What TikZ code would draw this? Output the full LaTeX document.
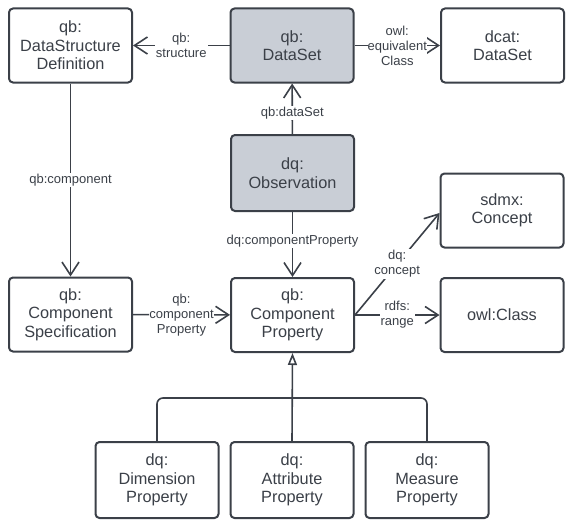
\documentclass[tikz,border=0pt]{standalone}
\usepackage{fontspec}
\setmainfont{Liberation Sans}
\usetikzlibrary{arrows.meta}
\definecolor{ink}{HTML}{3B4048}
\definecolor{boxgray}{HTML}{C9CED6}
\tikzset{
  x=1pt,y=-1pt,
  box/.style={draw=ink,line width=2pt,rounded corners=4pt,fill=white,
    minimum width=123pt,minimum height=74pt,align=center,text=ink,
    inner sep=2pt,font=\fontsize{16.3}{18.5}\selectfont},
  graybox/.style={box,fill=boxgray},
  conn/.style={draw=ink,line width=1.6pt},
  arr/.style={conn,-{Straight Barb[length=13pt,width=17pt,line width=1.6pt]}},
  inh/.style={conn,-{Triangle[open,length=12pt,width=9pt,line width=1.6pt]}},
  lbl/.style={fill=white,inner sep=1pt,align=center,text=ink,
    font=\fontsize{13}{15}\selectfont},
}
\begin{document}
\begin{tikzpicture}
\useasboundingbox (0,0) rectangle (572,527);
\node[box] (dsd) at (70.5,45.5) {qb:\\DataStructure\\Definition};
\node[graybox] (ds) at (292,45.5) {qb:\\DataSet};
\node[box] (dcat) at (502.5,45.5) {dcat:\\DataSet};
\node[graybox,minimum height=76pt] (obs) at (292.5,173) {dq:\\Observation};
\node[box] (sdmx) at (502,210.5) {sdmx:\\Concept};
\node[box] (cp) at (292.5,315) {qb:\\Component\\Property};
\node[box] (owl) at (502,315) {owl:Class};
\node[box] (cs) at (70.5,314.5) {qb:\\Component\\Specification};
\node[box,minimum height=76pt] (dim) at (157,480) {dq:\\Dimension\\Property};
\node[box,minimum height=76pt] (att) at (292,480) {dq:\\Attribute\\Property};
\node[box,minimum height=76pt] (mea) at (427,480) {dq:\\Measure\\Property};
\coordinate (j) at (292,398);

\draw[arr] (ds) -- node[lbl] {qb:\\structure} (dsd);
\draw[arr] (ds) -- node[lbl,inner sep=0pt] {owl:\\equivalent\\Class} (dcat);
\draw[arr] (obs) -- node[lbl,pos=0.42] {qb:dataSet} (ds);
\draw[arr] (dsd) -- node[lbl] {qb:component} (cs);
\draw[arr] (obs) -- node[lbl,pos=0.45] {dq:componentProperty} (cp);
\draw[arr] (cs) -- node[lbl,inner sep=0pt] {qb:\\component\\Property} (cp);
\draw[arr] (cp.east) -- node[lbl] {dq:\\concept} ([yshift=-2.5pt]sdmx.west);
\draw[arr] (cp) -- node[lbl] {rdfs:\\range} (owl);
\draw[conn,rounded corners=6pt] (dim.north) |- (j) -| (mea.north);
\draw[inh] (att.north) -- (cp.south);
\end{tikzpicture}
\end{document}
